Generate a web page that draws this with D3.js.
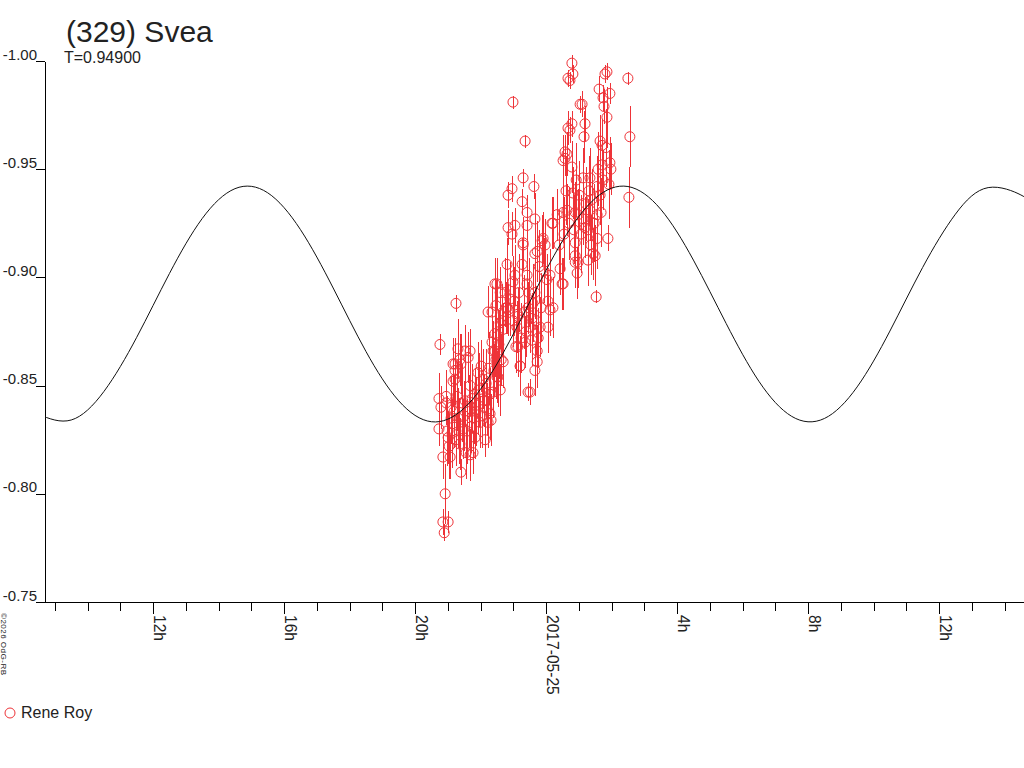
<!DOCTYPE html>
<html>
<head>
<meta charset="utf-8">
<script src="https://cdn.jsdelivr.net/npm/d3@7"></script>
<style>
  body { margin: 0; background: #fff; }
  svg { display: block; font-family: "Liberation Sans", Arial, sans-serif; }
</style>
</head>
<body>
<svg id="chart" width="1024" height="768"></svg>
<script>
const title = '(329) Svea';
const periodLabel = 'T=0.94900';
const observer = 'Rene Roy';
const copyright = '\u00a92026 OdG-RB';
const magTicks = [-1.00, -0.95, -0.90, -0.85, -0.80, -0.75];

// fitted curve, hours since 2017-05-24 00:00 UT
const curveHours = [8.5, 9.5, 10.5, 11.5, 12.5, 13.5, 14.5, 15.5, 16.5, 17.5, 18.5, 19.5, 20.5, 21.5, 22.5,
  23.5, 24.5, 25.5, 26.5, 27.5, 28.5, 29.5, 30.5, 31.5, 32.5, 33.5, 34.5, 35.5, 36.5, 37.5, 38.5, 38.7];
const curveMags = [-0.8367, -0.8341, -0.8473, -0.8723, -0.9018, -0.9272, -0.9410, -0.9391, -0.9221, -0.8951,
  -0.8658, -0.8430, -0.8333, -0.8396, -0.8600, -0.8886, -0.9168, -0.9365, -0.9420, -0.9315, -0.9080, -0.8787,
  -0.8520, -0.8358, -0.8348, -0.8494, -0.8752, -0.9046, -0.9292, -0.9415, -0.9381, -0.9354];

// observations: [hour, mag, error]
const reneRoyObs = [
  [20.76,-0.869,0.005],[20.73,-0.844,0.012],[20.79,-0.840,0.010],[20.73,-0.830,0.008],[20.85,-0.817,0.010],
  [20.92,-0.800,0.014],[20.85,-0.787,0.006],[21.01,-0.787,0.005],[20.89,-0.782,0.004],[20.95,-0.845,0.012],
  [20.95,-0.842,0.010],[21.01,-0.826,0.012],[21.07,-0.817,0.010],[21.10,-0.840,0.014],[21.16,-0.860,0.012],
  [21.25,-0.888,0.004],[21.22,-0.853,0.012],[21.31,-0.867,0.014],[21.40,-0.810,0.006],[21.53,-0.866,0.012],
  [21.68,-0.866,0.010],[21.62,-0.863,0.012],[21.40,-0.860,0.014],[21.22,-0.860,0.012],[21.22,-0.857,0.010],
  [21.37,-0.862,0.012],[21.16,-0.852,0.012],[21.77,-0.819,0.010],[21.71,-0.831,0.012],[22.23,-0.884,0.012],
  [22.47,-0.887,0.012],[22.38,-0.866,0.014],[22.53,-0.854,0.014],[22.60,-0.848,0.012],[22.32,-0.834,0.012],
  [21.92,-0.856,0.014],[22.02,-0.859,0.012],[22.63,-0.862,0.012],[22.78,-0.886,0.012],[23.21,-0.859,0.010],
  [23.36,-0.870,0.012],[23.45,-0.847,0.004],[23.39,-0.875,0.012],[23.14,-0.882,0.012],[22.99,-0.880,0.012],
  [23.08,-0.868,0.012],[22.69,-0.876,0.012],[22.44,-0.874,0.012],[21.47,-0.830,0.014],[21.25,-0.825,0.012],
  [21.10,-0.835,0.012],[21.56,-0.819,0.012],[21.68,-0.818,0.012],[21.98,-0.833,0.012],[22.23,-0.833,0.012],
  [21.92,-0.841,0.014],[22.11,-0.843,0.012],[22.29,-0.846,0.012],[21.83,-0.826,0.010],[22.14,-0.825,0.008],
  [21.53,-0.843,0.012],[21.68,-0.850,0.014],[21.83,-0.846,0.012],[22.08,-0.853,0.014],[21.31,-0.835,0.014],
  [21.37,-0.823,0.012],[21.80,-0.835,0.012],[22.20,-0.839,0.012],[22.41,-0.857,0.012],
  [22.50,-0.897,0.012],[22.81,-0.906,0.012],[23.30,-0.915,0.012],[23.66,-0.911,0.012],[23.27,-0.906,0.012],
  [23.05,-0.901,0.014],[23.42,-0.897,0.012],[24.49,-0.897,0.012],[24.43,-0.904,0.012],[24.89,-0.907,0.012],
  [24.95,-0.902,0.012],[25.28,-0.908,0.012],[25.44,-0.911,0.012],[25.53,-0.891,0.003],[24.21,-0.886,0.014],
  [23.14,-0.883,0.012],[23.57,-0.881,0.012],[23.51,-0.877,0.012],[23.82,-0.877,0.014],[24.06,-0.877,0.012],
  [23.11,-0.877,0.012],[22.60,-0.879,0.012],[22.81,-0.886,0.012],[22.35,-0.884,0.012],[22.53,-0.873,0.012],
  [23.76,-0.872,0.014],[23.57,-0.871,0.012],[23.14,-0.868,0.014],[22.44,-0.866,0.012],[23.73,-0.866,0.012],
  [22.69,-0.861,0.012],[23.21,-0.859,0.014],[23.73,-0.861,0.012],[23.66,-0.857,0.012],[22.50,-0.854,0.012],
  [23.51,-0.847,0.006],[22.38,-0.847,0.012],[22.29,-0.837,0.012],
  [22.99,-0.981,0.003],[24.73,-0.991,0.004],[25.04,-0.980,0.004],[24.79,-0.971,0.006],[24.73,-0.968,0.006],
  [23.36,-0.963,0.003],[24.58,-0.958,0.008],[24.58,-0.955,0.008],[23.30,-0.946,0.004],[22.96,-0.941,0.006],
  [22.84,-0.938,0.006],[23.63,-0.942,0.006],[23.27,-0.935,0.006],[23.42,-0.930,0.008],[22.84,-0.923,0.008],
  [23.05,-0.924,0.008],[22.96,-0.920,0.010],[23.30,-0.916,0.012],[24.52,-0.930,0.014],[24.89,-0.930,0.014],
  [24.82,-0.939,0.012],[23.42,-0.924,0.012],[23.66,-0.927,0.012],[24.18,-0.925,0.012],[24.34,-0.929,0.012],
  [23.73,-0.912,0.014],[23.88,-0.917,0.012],[22.99,-0.898,0.012],[23.42,-0.901,0.012],[22.44,-0.897,0.012],
  [22.60,-0.893,0.012],[23.66,-0.893,0.012],[24.03,-0.899,0.012],[24.12,-0.885,0.012],[22.84,-0.885,0.012],
  [23.45,-0.886,0.012],
  [24.79,-0.999,0.004],[24.82,-0.994,0.004],[24.67,-0.992,0.004],[25.86,-0.995,0.004],[25.80,-0.994,0.004],
  [26.50,-0.992,0.003],[25.62,-0.987,0.006],[25.74,-0.983,0.006],[25.95,-0.985,0.005],[25.10,-0.980,0.006],
  [25.77,-0.979,0.008],[25.86,-0.974,0.014],[24.67,-0.969,0.008],[25.19,-0.971,0.008],[25.16,-0.965,0.012],
  [26.56,-0.965,0.014],[25.65,-0.963,0.012],[25.71,-0.961,0.012],[24.52,-0.954,0.012],[24.64,-0.957,0.010],
  [24.79,-0.951,0.012],[25.95,-0.953,0.012],[25.98,-0.950,0.012],[25.71,-0.952,0.014],[25.13,-0.946,0.014],
  [25.34,-0.946,0.014],[25.56,-0.942,0.014],[25.74,-0.945,0.014],[26.53,-0.937,0.014],[24.21,-0.925,0.012],
  [24.64,-0.931,0.012],[24.98,-0.929,0.012],[25.13,-0.927,0.012],[25.19,-0.923,0.014],[25.56,-0.929,0.014],
  [25.56,-0.918,0.014],[25.89,-0.918,0.006],[23.91,-0.918,0.012],[23.97,-0.915,0.012],[24.89,-0.916,0.012],
  [24.89,-0.910,0.012],[25.50,-0.910,0.014],[24.98,-0.907,0.012],[24.52,-0.897,0.012],[24.12,-0.901,0.012],
  [24.06,-0.889,0.012],[25.34,-0.931,0.014],[25.40,-0.936,0.014],[25.65,-0.938,0.014],[25.28,-0.922,0.014],
  [25.37,-0.915,0.014],
  [20.98,-0.829,0.016],[21.04,-0.822,0.015],[21.13,-0.828,0.016],[21.19,-0.838,0.017],[21.28,-0.845,0.016],
  [21.34,-0.829,0.015],[21.43,-0.842,0.018],[21.50,-0.836,0.016],[21.59,-0.829,0.015],[21.65,-0.838,0.017],
  [21.74,-0.844,0.016],[21.86,-0.838,0.016],[21.95,-0.848,0.017],[22.05,-0.836,0.015],[22.17,-0.851,0.016],
  [22.26,-0.858,0.017],[22.35,-0.870,0.016],[22.47,-0.862,0.018],[22.56,-0.869,0.016],[22.66,-0.880,0.017],
  [22.75,-0.893,0.016],[22.90,-0.890,0.017],[23.02,-0.889,0.016],[23.17,-0.893,0.018],[23.24,-0.872,0.016],
  [23.33,-0.884,0.017],[23.48,-0.893,0.016],[23.60,-0.888,0.018],[23.70,-0.880,0.016],[23.79,-0.905,0.017],
  [23.85,-0.886,0.016],[23.94,-0.903,0.015],
  [24.40,-0.915,0.016],[24.55,-0.920,0.017],[24.61,-0.940,0.016],[24.70,-0.925,0.017],[24.85,-0.922,0.016],
  [24.92,-0.945,0.017],[25.01,-0.938,0.016],[25.07,-0.920,0.018],[25.22,-0.934,0.017],[25.31,-0.940,0.016],
  [25.47,-0.925,0.018],[25.59,-0.950,0.017],[25.68,-0.930,0.016],[25.83,-0.960,0.018],[25.92,-0.943,0.016]
];

const red = '#ee3338';
const day0 = Date.UTC(2017, 4, 24);
const toDate = h => new Date(day0 + h * 3600e3);

const svg = d3.select('#chart');

const x = d3.scaleUtc()
  .domain([toDate(8.70), toDate(38.595)])
  .range([45, 1024]);
const y = d3.scaleLinear()
  .domain([-1.0, -0.75])
  .range([61, 602]);

// x axis: hourly minor ticks, 4-hourly labelled ticks
const fmtTick = d => d.getUTCHours() === 0 ? d3.utcFormat('%Y-%m-%d')(d) : d.getUTCHours() + 'h';

svg.append('g')
  .attr('transform', 'translate(0,602)')
  .call(d3.axisBottom(x).ticks(d3.utcHour.every(1)).tickSize(9).tickSizeOuter(0).tickFormat(''))
  .call(g => g.selectAll('line').attr('shape-rendering', 'crispEdges'))
  .call(g => g.select('.domain').attr('shape-rendering', 'crispEdges'));

svg.append('g')
  .attr('transform', 'translate(0,602)')
  .call(d3.axisBottom(x).ticks(d3.utcHour.every(4)).tickSize(12).tickSizeOuter(0).tickFormat(fmtTick))
  .call(g => g.select('.domain').remove())
  .call(g => g.selectAll('line').attr('shape-rendering', 'crispEdges'))
  .call(g => g.selectAll('text')
    .attr('x', 0).attr('y', 0).attr('dy', 0)
    .attr('text-anchor', 'start')
    .attr('transform', 'translate(0,13) rotate(90)')
    .style('font-size', '15.6px')
    .attr('fill', '#222'));

// y axis
svg.append('g')
  .attr('transform', 'translate(45,0)')
  .call(d3.axisLeft(y).tickValues(magTicks).tickSize(9).tickSizeOuter(0).tickFormat(d => d.toFixed(2)))
  .call(g => g.selectAll('line').attr('shape-rendering', 'crispEdges'))
  .call(g => g.select('.domain').attr('shape-rendering', 'crispEdges'))
  .call(g => g.selectAll('text')
    .attr('x', -8).attr('y', -2).attr('dy', 0)
    .style('font-size', '15px')
    .attr('fill', '#222'));

// observations: error bars as 1px filled rects so they stay solid red
const obs = svg.append('g');
obs.selectAll('rect.err')
  .data(reneRoyObs)
  .join('rect')
  .attr('class', 'err')
  .attr('x', d => Math.round(x(toDate(d[0]))))
  .attr('width', 1)
  .attr('y', d => y(d[1] - d[2]))
  .attr('height', d => y(d[1] + d[2]) - y(d[1] - d[2]))
  .attr('fill', red)
  .attr('shape-rendering', 'crispEdges');

obs.selectAll('circle')
  .data(reneRoyObs)
  .join('circle')
  .attr('cx', d => x(toDate(d[0])))
  .attr('cy', d => y(d[1]))
  .attr('r', 5)
  .attr('fill', 'none')
  .attr('stroke', red)
  .attr('stroke-width', 1);

// fitted curve
svg.append('clipPath').attr('id', 'plotClip')
  .append('rect').attr('x', 45).attr('y', 0).attr('width', 979).attr('height', 602);

const line = d3.line()
  .x(d => x(toDate(d[0])))
  .y(d => y(d[1]))
  .curve(d3.curveNatural);

svg.append('path')
  .datum(d3.zip(curveHours, curveMags))
  .attr('clip-path', 'url(#plotClip)')
  .attr('d', line)
  .attr('fill', 'none')
  .attr('stroke', '#111')
  .attr('stroke-width', 1);

// titles
svg.append('text')
  .attr('x', 66).attr('y', 42)
  .style('font-size', '30px')
  .attr('fill', '#222')
  .text(title);

svg.append('text')
  .attr('x', 64).attr('y', 63)
  .style('font-size', '16px')
  .attr('fill', '#222')
  .text(periodLabel);

// legend
svg.append('circle')
  .attr('cx', 10).attr('cy', 713).attr('r', 5)
  .attr('fill', 'none').attr('stroke', red);
svg.append('text')
  .attr('x', 21).attr('y', 718)
  .style('font-size', '16px')
  .attr('fill', '#222')
  .text(observer);

// copyright
svg.append('text')
  .attr('transform', 'translate(1,613) rotate(90)')
  .style('font-size', '8px')
  .attr('textLength', 62)
  .attr('fill', '#222')
  .text(copyright);
</script>
</body>
</html>
